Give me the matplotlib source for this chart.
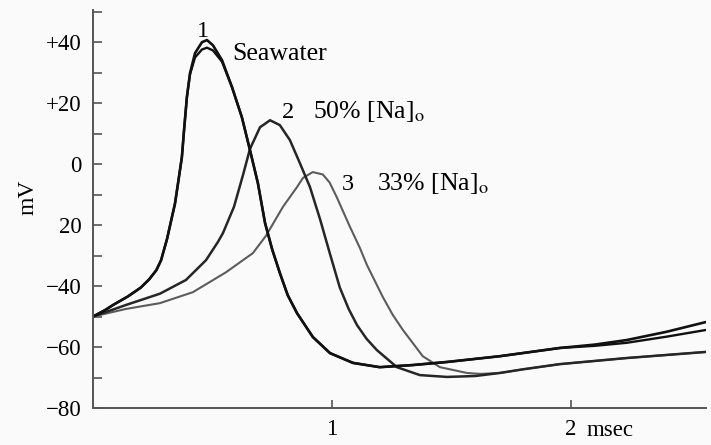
import matplotlib
matplotlib.use("Agg")
import matplotlib.pyplot as plt

# time (msec) and membrane potential (mV)
t_sea = [0, 0.05, 0.084, 0.146, 0.2, 0.235, 0.265, 0.285, 0.31, 0.33, 0.343, 0.356, 0.372,
         0.381, 0.393, 0.406, 0.427, 0.456, 0.477, 0.502, 0.54, 0.582, 0.623, 0.657, 0.69,
         0.72, 0.75, 0.782, 0.815, 0.854, 0.92, 0.992, 1.088, 1.2, 1.339, 1.481, 1.703,
         1.954, 2.1, 2.234, 2.40, 2.565]
v_sea_a = [-50, -47.9, -46.2, -43.4, -40.5, -37.8, -34.8, -31.5, -24.5, -17.5, -13, -6.2, 2.3,
           11.1, 22, 29.8, 36.4, 40, 40.7, 39, 34.1, 25.2, 15.4, 4.6, -6.2,
           -19.3, -28, -35.7, -43, -48.9, -56.7, -62, -65.2, -66.6, -65.9, -64.9, -63,
           -60.3, -59.2, -57.7, -55, -51.8]
v_sea_b = [-50, -47.9, -46.2, -43.4, -40.5, -37.8, -34.8, -31.5, -24.5, -17.5, -13, -6.2, 2.3,
           11.1, 22, 29.5, 35, 37.6, 38.2, 37.3, 33.6, 25.2, 15.4, 4.6, -6.2,
           -19.3, -28, -35.7, -43, -48.9, -56.7, -62, -65.2, -66.6, -65.9, -64.9, -63,
           -60.3, -59.6, -58.6, -56.6, -54.4]

t_50 = [0, 0.138, 0.28, 0.389, 0.473, 0.523, 0.544, 0.59, 0.628, 0.657, 0.699, 0.741, 0.782,
        0.824, 0.866, 0.908, 0.95, 0.992, 1.033, 1.07, 1.105, 1.145, 1.188, 1.272, 1.368,
        1.481, 1.6, 1.703, 1.8, 1.954, 2.234, 2.565]
v_50 = [-50, -46.2, -42.5, -38, -31.5, -25.5, -22.6, -14, -3.5, 5, 12.1, 14.4, 12.8,
        7.9, 0.3, -7.5, -18, -29.5, -40.5, -47.5, -52.8, -57.3, -61, -66.6, -69.2,
        -69.8, -69.5, -68.5, -67.3, -65.6, -63.6, -61.6]

t_33 = [0, 0.138, 0.28, 0.418, 0.556, 0.669, 0.724, 0.795, 0.854, 0.879, 0.92, 0.962, 0.99,
        1.02, 1.075, 1.117, 1.146, 1.213, 1.255, 1.297, 1.38, 1.452, 1.565, 1.62, 1.703,
        1.8, 1.954, 2.234, 2.565]
v_33 = [-50, -47.5, -45.6, -42, -35.5, -29.2, -23.5, -14, -7.5, -4.5, -2.6, -3.4, -6,
        -10.8, -20.5, -27.5, -33, -43.6, -49.5, -54.4, -63, -66.6, -68.5, -68.8, -68.5,
        -67.3, -65.6, -63.6, -61.6]

y_ticks = [-80, -60, -40, -20, 0, 20, 40]
y_labels = ["\u221280", "\u221260", "\u221240", "20", "0", "+20", "+40"]
y_minor = [-70, -50, -30, -10, 10, 30, 50]
x_ticks = [1, 2]
x_labels = ["1", "2"]

plt.rcParams["font.family"] = "Liberation Serif"
plt.rcParams["mathtext.fontset"] = "stix"

fig = plt.figure(figsize=(7.11, 4.45), dpi=100, facecolor="#fafafa")
ax = fig.add_axes([0.1308, 0.0831, 0.862, 0.894])
ax.set_facecolor("#fafafa")

ax.plot(t_33, v_33, color="#5c5c5c", lw=1.5, solid_joinstyle="round", solid_capstyle="round")
ax.plot(t_50, v_50, color="#262626", lw=1.8, solid_joinstyle="round", solid_capstyle="round")
ax.plot(t_sea, v_sea_b, color="#111111", lw=1.7, solid_joinstyle="round", solid_capstyle="round")
ax.plot(t_sea, v_sea_a, color="#111111", lw=1.9, solid_joinstyle="round", solid_capstyle="round")

ax.set_xlim(0, 2.565)
ax.set_ylim(-80, 50.5)

for s in ["top", "right"]:
    ax.spines[s].set_visible(False)
for s in ["left", "bottom"]:
    ax.spines[s].set_color("#555555")
    ax.spines[s].set_linewidth(1.4)

ax.set_yticks(y_ticks)
ax.set_yticklabels(y_labels)
ax.set_yticks(y_minor, minor=True)
ax.set_xticks(x_ticks)
ax.set_xticklabels(x_labels)
ax.tick_params(axis="y", which="both", direction="in", length=6.5, width=1.2,
               color="#555555", pad=8, labelsize=16.5)
ax.tick_params(axis="x", direction="in", length=6, width=1.2, color="#555555",
               pad=8, labelsize=16.5)

ax.annotate("msec", xy=(2.0, 0), xycoords=("data", "axes fraction"),
            xytext=(11.5, -8.6), textcoords="offset points", ha="left", va="top",
            fontsize=16.5)

fig.text(0.039, 0.557, "mV", rotation=90, ha="center", va="center", fontsize=17)

ax.text(0.46, 41.6, "1", ha="center", va="baseline", fontsize=17.5)
ax.text(0.582, 34.1, "Seawater", ha="left", va="baseline", fontsize=18.5)
ax.text(0.816, 15.1, "2", ha="center", va="baseline", fontsize=17.5)
ax.text(0.92, 15.1, "50% [Na]$_\\mathrm{o}$", ha="left", va="baseline", fontsize=18.5)
ax.text(1.067, -8.5, "3", ha="center", va="baseline", fontsize=17.5)
ax.text(1.188, -8.5, "33% [Na]$_\\mathrm{o}$", ha="left", va="baseline", fontsize=18.5)

fig.savefig("out.png", dpi=100, facecolor=fig.get_facecolor())
